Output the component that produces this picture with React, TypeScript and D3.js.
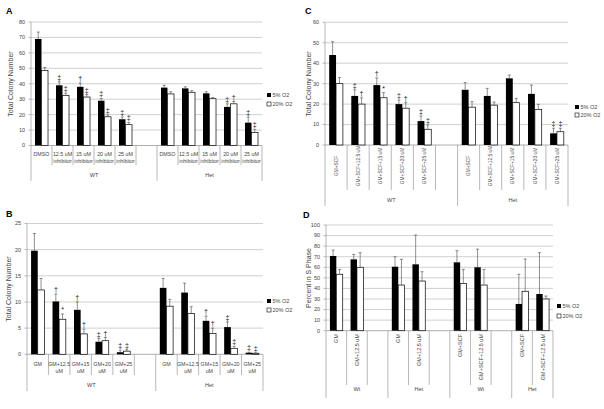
import React from "react";
import * as d3 from "d3";

// ---------- Panel A ----------
const A_groups = ["WT", "WT", "WT", "WT", "WT", "WT", "Het", "Het", "Het", "Het", "Het"];
const A_labels = ["DMSO", "12.5 uM\ninhibitor", "15 uM\ninhibitor", "20 uM\ninhibitor", "25 uM\ninhibitor", "", "DMSO", "12.5 uM\ninhibitor", "15 uM\ninhibitor", "20 uM\ninhibitor", "25 uM\ninhibitor"];
const A_black = [69, 39, 38, 29, 17, null, 37.5, 37, 33.8, 25, 14.8];
const A_blackErr = [4.5, 2.3, 2.5, 1.5, 1.5, null, 1.5, 1, 1, 2, 3.7];
const A_white = [48.5, 32.5, 31.4, 18.6, 13.5, null, 33.4, 34.5, 30.3, 27, 8.5];
const A_whiteErr = [2, 1.5, 1.6, 1.2, 1.5, null, 1.4, 1, 0.8, 1.5, 2];
const A_blackMarks = ["", "‡", "†", "‡", "‡", "", "", "", "", "‡", "‡"];
const A_whiteMarks = ["", "‡", "‡", "‡", "‡", "", "", "", "", "†", "‡"];
const A_ticks = [0, 10, 20, 30, 40, 50, 60, 70, 80];

// ---------- Panel B ----------
const B_groups = ["WT", "WT", "WT", "WT", "WT", "WT", "Het", "Het", "Het", "Het", "Het"];
const B_labels = ["GM", "GM+12.5\nuM", "GM+15\nuM", "GM+20\nuM", "GM+25\nuM", "", "GM", "GM+12.5\nuM", "GM+15\nuM", "GM+20\nuM", "GM+25\nuM"];
const B_black = [19.8, 10.1, 8.5, 2.4, 0.4, null, 12.7, 11.8, 6.4, 5.2, 0.3];
const B_blackErr = [3.3, 1.4, 1.5, 0.6, 0.4, null, 1.8, 1.8, 0.9, 1.0, 0.1];
const B_white = [12.3, 6.7, 3.9, 2.6, 0.6, null, 9.2, 7.8, 4.0, 1.15, 0.2];
const B_whiteErr = [2.2, 1.0, 0.9, 0.6, 0.3, null, 1.3, 1.3, 1.0, 0.4, 0.1];
const B_blackMarks = ["", "†", "†", "‡", "‡", "", "", "", "†", "‡", "‡"];
const B_whiteMarks = ["", "*", "†", "†", "‡", "", "", "", "†", "‡", "‡"];
const B_ticks = [0, 5, 10, 15, 20, 25];

// ---------- Panel C ----------
const C_groups = ["WT", "WT", "WT", "WT", "WT", "WT", "Het", "Het", "Het", "Het", "Het"];
const C_labels = ["GM+SCF", "GM+SCF+12.5 uM", "GM+SCF+15 uM", "GM+SCF+20 uM", "GM+SCF+25 uM", "", "GM+SCF", "GM+SCF+12.5 uM", "GM+SCF+15 uM", "GM+SCF+20 uM", "GM+SCF+25 uM"];
const C_black = [44, 24, 29.3, 20, 11.7, null, 27, 24, 32.6, 25, 5.7];
const C_blackErr = [6.5, 3, 3.5, 2, 2.5, null, 3.5, 3.7, 1.6, 4.3, 2.5];
const C_white = [30, 20, 23.1, 18, 7.7, null, 18.5, 19.5, 20.7, 17.4, 6.5];
const C_whiteErr = [3, 3, 2.5, 2.7, 2.1, null, 2.7, 1.5, 2.1, 2.5, 1.7];
const C_blackMarks = ["", "‡", "†", "‡", "‡", "", "", "", "", "", "‡"];
const C_whiteMarks = ["", "†", "*", "†", "‡", "", "", "", "", "", "‡"];
const C_ticks = [0, 10, 20, 30, 40, 50, 60];

// ---------- Panel D ----------
const D_groups = ["Wt", "Wt", "Wt", "Het", "Het", "Het", "Wt ", "Wt ", "Wt ", "Het ", "Het "];
const D_labels = ["GM", "GM+12.5 uM", "", "GM", "GM+12.5 uM", "", "GM+SCF", "GM+SCF+12.5 uM", "", "GM+SCF", "GM+SCF+12.5 uM"];
const D_black = [70.7, 67.5, null, 60.5, 62.8, null, 64.7, 60, null, 25.3, 34.7];
const D_blackErr = [5.6, 4.7, null, 9.5, 27.7, null, 11, 17.2, null, 28.1, 39.1];
const D_white = [53.4, 60, null, 43.2, 47, null, 44.8, 43.2, null, 37.3, 30];
const D_whiteErr = [4.6, 13.8, null, 24.3, 8.8, null, 13.2, 14.8, null, 30.5, 2.8];
const D_ticks = [0, 10, 20, 30, 40, 50, 60, 70, 80, 90, 100];

const legendLabels = ["5% O2", "20% O2"];

const FONT = "'Liberation Sans', Arial, sans-serif";
const TXT = "#444";
const GRID = "#c4c4c4";
const AXIS = "#9a9a9a";

type Layout = {
  letter: string; lx: number; ly: number;
  x0: number; x1: number; yTop: number; yBottom: number; yMax: number;
  title: string; titleX: number; titleY: number;
  mode: "wrap" | "rotCenter" | "rotTop";
  labelY: number; lineH: number; labelFont: number;
  innerSep: number; groupSep: number; groupLabelY: number;
  legX: number; legY1: number; legY2: number;
};

function Panel(props: {
  L: Layout; groups: string[]; labels: string[];
  black: (number | null)[]; blackErr: (number | null)[];
  white: (number | null)[]; whiteErr: (number | null)[];
  blackMarks?: string[]; whiteMarks?: string[]; ticks: number[];
}) {
  const { L, groups, labels, black, blackErr, white, whiteErr, blackMarks, whiteMarks, ticks } = props;
  const n = labels.length;
  const x = d3.scaleBand<number>().domain(d3.range(n)).range([L.x0, L.x1]).padding(0);
  const y = d3.scaleLinear().domain([0, L.yMax]).range([L.yBottom, L.yTop]);
  const bw = x.bandwidth() * 0.31;
  const cx = (i: number) => (x(i) as number) + x.bandwidth() / 2;

  // group boundaries
  const bounds: number[] = [0];
  for (let i = 1; i < n; i++) if (groups[i] !== groups[i - 1]) bounds.push(i);
  bounds.push(n);
  const groupRanges = bounds.slice(0, -1).map((b, k) => ({ start: b, end: bounds[k + 1], name: groups[b].trim() }));

  const els: React.ReactNode[] = [];

  // gridlines
  ticks.forEach((t, k) => {
    if (t === 0) return;
    els.push(<line key={"g" + k} x1={L.x0} x2={L.x1} y1={y(t)} y2={y(t)} stroke={GRID} strokeWidth={0.8} />);
  });
  // tick labels
  ticks.forEach((t, k) => {
    els.push(
      <text key={"t" + k} x={L.x0 - 6} y={y(t)} dy="0.35em" textAnchor="end" fontSize={5.5} fill={TXT} fontFamily={FONT}>{t}</text>
    );
    els.push(<line key={"tk" + k} x1={L.x0 - 2.5} x2={L.x0} y1={y(t)} y2={y(t)} stroke={AXIS} strokeWidth={0.7} />);
  });

  // category separators
  for (let i = 0; i <= n; i++) {
    const xx = i < n ? (x(i) as number) : L.x1;
    const isGroup = bounds.includes(i);
    els.push(
      <line key={"s" + i} x1={xx} x2={xx} y1={i === 0 ? L.yTop : L.yBottom} y2={isGroup ? L.groupSep : L.innerSep} stroke={AXIS} strokeWidth={0.7} />
    );
  }
  // baseline
  els.push(<line key="base" x1={L.x0} x2={L.x1} y1={L.yBottom} y2={L.yBottom} stroke={AXIS} strokeWidth={0.8} />);

  // bars
  for (let i = 0; i < n; i++) {
    const b = black[i], w = white[i];
    if (b != null) {
      els.push(<rect key={"b" + i} x={cx(i) - bw} y={y(b)} width={bw} height={L.yBottom - y(b)} fill="#000" />);
    }
    if (w != null) {
      els.push(<rect key={"w" + i} x={cx(i)} y={y(w)} width={bw} height={L.yBottom - y(w)} fill="#fff" stroke="#000" strokeWidth={0.7} />);
    }
  }
  // error bars & marks
  const errs: [number | null, number | null, number, string | undefined][] = [];
  for (let i = 0; i < n; i++) {
    errs.push([black[i], blackErr[i], cx(i) - bw / 2, blackMarks ? blackMarks[i] : undefined]);
    errs.push([white[i], whiteErr[i], cx(i) + bw / 2, whiteMarks ? whiteMarks[i] : undefined]);
  }
  errs.forEach(([v, e, ex, m], k) => {
    if (v == null || e == null) return;
    const top = y(v + e);
    els.push(<line key={"e" + k} x1={ex} x2={ex} y1={y(v)} y2={top} stroke="#444" strokeWidth={0.6} />);
    els.push(<line key={"ec" + k} x1={ex - 1.5} x2={ex + 1.5} y1={top} y2={top} stroke="#444" strokeWidth={0.6} />);
    if (m) {
      els.push(<text key={"m" + k} x={ex} y={top - 2} textAnchor="middle" fontSize={7} fill="#111" fontFamily={FONT}>{m}</text>);
    }
  });

  // category labels
  labels.forEach((lab, i) => {
    if (!lab) return;
    if (L.mode === "wrap") {
      const lines = lab.split("\n");
      els.push(
        <text key={"l" + i} x={cx(i)} y={L.labelY} textAnchor="middle" fontSize={L.labelFont} fill={TXT} fontFamily={FONT}>
          {lines.map((ln, j) => (
            <tspan key={j} x={cx(i)} dy={j === 0 ? 0 : L.lineH}>{ln}</tspan>
          ))}
        </text>
      );
    } else {
      els.push(
        <text key={"l" + i} transform={`translate(${cx(i)},${L.labelY}) rotate(-90)`} dy="0.35em"
          textAnchor={L.mode === "rotCenter" ? "middle" : "end"} fontSize={L.labelFont} fill={TXT} fontFamily={FONT}>{lab}</text>
      );
    }
  });

  // group labels
  groupRanges.forEach((g, k) => {
    const gx = ((x(g.start) as number) + (g.end < n ? (x(g.end) as number) : L.x1)) / 2;
    els.push(<text key={"gl" + k} x={gx} y={L.groupLabelY} textAnchor="middle" fontSize={5.5} fill={TXT} fontFamily={FONT}>{g.name}</text>);
  });

  // axis title
  els.push(
    <text key="title" transform={`translate(${L.titleX},${L.titleY}) rotate(-90)`} dy="0.35em" textAnchor="middle" fontSize={7} fill={TXT} fontFamily={FONT}>{L.title}</text>
  );
  // panel letter
  els.push(<text key="letter" x={L.lx} y={L.ly} fontSize={9} fontWeight="bold" fill="#000" fontFamily={FONT}>{L.letter}</text>);

  // legend
  els.push(<rect key="lg1" x={L.legX} y={L.legY1 - 2} width={4} height={4} fill="#000" />);
  els.push(<text key="lt1" x={L.legX + 5.5} y={L.legY1} dy="0.35em" fontSize={5.5} fill={TXT} fontFamily={FONT}>{legendLabels[0]}</text>);
  els.push(<rect key="lg2" x={L.legX} y={L.legY2 - 2} width={4} height={4} fill="#fff" stroke="#000" strokeWidth={0.6} />);
  els.push(<text key="lt2" x={L.legX + 5.5} y={L.legY2} dy="0.35em" fontSize={5.5} fill={TXT} fontFamily={FONT}>{legendLabels[1]}</text>);

  return <g>{els}</g>;
}

const LA: Layout = {
  letter: "A", lx: 6, ly: 14, x0: 31, x1: 262, yTop: 22, yBottom: 145.5, yMax: 80,
  title: "Total Colony Number", titleX: 11, titleY: 84, mode: "wrap", labelY: 155.5, lineH: 7.5, labelFont: 5.3,
  innerSep: 165, groupSep: 181, groupLabelY: 177, legX: 267, legY1: 95, legY2: 104,
};
const LB: Layout = {
  letter: "B", lx: 6, ly: 217, x0: 27, x1: 263, yTop: 223.5, yBottom: 354.3, yMax: 25,
  title: "Total Colony Number", titleX: 9, titleY: 289, mode: "wrap", labelY: 365.5, lineH: 7, labelFont: 5.3,
  innerSep: 375, groupSep: 391, groupLabelY: 387, legX: 267, legY1: 301, legY2: 310,
};
const LC: Layout = {
  letter: "C", lx: 305, ly: 14, x0: 325, x1: 568, yTop: 22.3, yBottom: 145, yMax: 60,
  title: "Total Colony Number", titleX: 309, titleY: 84, mode: "rotCenter", labelY: 166, lineH: 7, labelFont: 4.8,
  innerSep: 190, groupSep: 206, groupLabelY: 202, legX: 575, legY1: 107, legY2: 115,
};
const LD: Layout = {
  letter: "D", lx: 303, ly: 218, x0: 326, x1: 553, yTop: 225, yBottom: 330.7, yMax: 100,
  title: "Percent in S Phase", titleX: 309, titleY: 278, mode: "rotTop", labelY: 334, lineH: 7, labelFont: 5.5,
  innerSep: 385, groupSep: 398, groupLabelY: 391, legX: 557, legY1: 306, legY2: 316,
};

export default function App() {
  return (
    <svg width={604} height={409} style={{ position: "absolute", left: 0, top: 0, background: "#fff" }}>
      <rect x={0} y={0} width={604} height={409} fill="#fff" />
      <Panel L={LA} groups={A_groups} labels={A_labels} black={A_black} blackErr={A_blackErr} white={A_white} whiteErr={A_whiteErr} blackMarks={A_blackMarks} whiteMarks={A_whiteMarks} ticks={A_ticks} />
      <Panel L={LB} groups={B_groups} labels={B_labels} black={B_black} blackErr={B_blackErr} white={B_white} whiteErr={B_whiteErr} blackMarks={B_blackMarks} whiteMarks={B_whiteMarks} ticks={B_ticks} />
      <Panel L={LC} groups={C_groups} labels={C_labels} black={C_black} blackErr={C_blackErr} white={C_white} whiteErr={C_whiteErr} blackMarks={C_blackMarks} whiteMarks={C_whiteMarks} ticks={C_ticks} />
      <Panel L={LD} groups={D_groups} labels={D_labels} black={D_black} blackErr={D_blackErr} white={D_white} whiteErr={D_whiteErr} ticks={D_ticks} />
    </svg>
  );
}
